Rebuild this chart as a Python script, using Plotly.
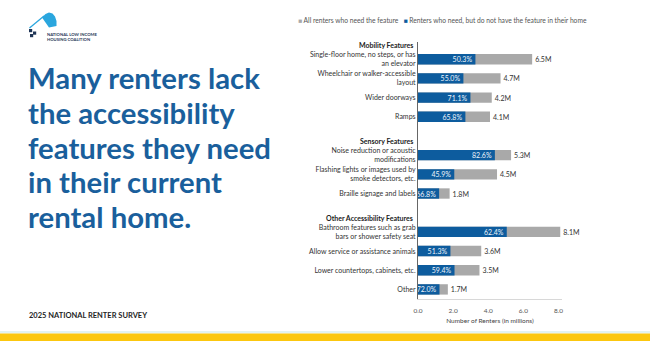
import plotly.graph_objects as go

# ---------------- data ----------------
groups = ["Mobility Features", "Sensory Features", "Other Accessibility Features"]
features = [
    "Single-floor home, no steps, or has<br>an elevator",
    "Wheelchair or walker-accessible<br>layout",
    "Wider doorways",
    "Ramps",
    "Noise reduction or acoustic<br>modifications",
    "Flashing lights or images used by<br>smoke detectors, etc.",
    "Braille signage and labels",
    "Bathroom features such as grab<br>bars or shower safety seat",
    "Allow service or assistance animals",
    "Lower countertops, cabinets, etc.",
    "Other",
]
feature_group = [0, 0, 0, 0, 1, 1, 1, 2, 2, 2, 2]
total_need_m = [6.5, 4.7, 4.2, 4.1, 5.3, 4.5, 1.8, 8.1, 3.6, 3.5, 1.7]
pct_lacking = [50.3, 55.0, 71.1, 65.8, 82.6, 45.9, 66.8, 62.4, 51.3, 59.4, 72.0]
x_ticks = [0, 2, 4, 6, 8]
series_all = "All renters who need the feature"
series_lack = "Renters who need, but do not have the feature in their home"
title_lines = ["Many renters lack", "the accessibility", "features they need",
               "in their current", "rental home."]
footer = "2025 NATIONAL RENTER SURVEY"
x_title = "Number of Renters (in millions)"

# ---------------- styles ----------------
BLUE = "#0d5c9e"
GRAY = "#a9a9a9"
TITLE_BLUE = "#1a5f9c"
FONT = "Lato, 'Open Sans', sans-serif"
W, H = 650, 341
ML, MR, MT, MB = 418, 88, 42, 42
PW, PH = W - ML - MR, H - MT - MB


def px(x):
    return (x - ML) / PW


def py(y):
    return 1 - (y - MT) / PH


# rows: header placeholder then its features
rows, ticktext, header_idx = [], [], []
for gi, g in enumerate(groups):
    header_idx.append(len(rows))
    rows.append(f"__hdr{gi}")
    ticktext.append("")
    for f, fg in zip(features, feature_group):
        if fg == gi:
            rows.append(f)
            ticktext.append(f)

Y_RANGE = [len(rows) - 0.5, 0.1]


def row_to_paper(idx):
    return (Y_RANGE[0] - idx) / (Y_RANGE[0] - Y_RANGE[1])


lacking_m = [t * p / 100 for t, p in zip(total_need_m, pct_lacking)]

fig = go.Figure()
fig.add_trace(go.Bar(
    y=features, x=total_need_m, orientation="h", name=series_all,
    marker=dict(color=GRAY, line=dict(width=0)), width=0.54,
    text=[f"{v:.1f}M" for v in total_need_m], textposition="outside",
    textfont=dict(size=7, color="#333333", family=FONT), cliponaxis=False,
))
fig.add_trace(go.Bar(
    y=features, x=lacking_m, orientation="h", name=series_lack,
    marker=dict(color=BLUE, line=dict(width=0)), width=0.54,
    text=[f"{p:.1f}%" for p in pct_lacking], textposition="inside",
    insidetextanchor="end", constraintext="none",
    textfont=dict(size=7, color="#eef4fb", family=FONT),
))

annotations = []
# group headers
for gi, g in enumerate(groups):
    annotations.append(dict(
        x=0, xref="paper", y=row_to_paper(header_idx[gi]), yref="paper",
        xanchor="right", yanchor="middle",
        xshift=-3, yshift=-5, text=f"<b>{g}</b>", showarrow=False,
        font=dict(size=7, color="#222222", family=FONT)))
# legend
annotations.append(dict(
    x=px(296), xref="paper", y=py(20), yref="paper", xanchor="left", yanchor="middle",
    showarrow=False, font=dict(size=6.7, color="#555555", family=FONT),
    text=(f"<span style='color:{GRAY}'>■</span> {series_all}   "
          f"<span style='color:{BLUE}'>■</span> {series_lack}")))
# title lines
for i, line in enumerate(title_lines):
    annotations.append(dict(
        x=px(26), xref="paper", y=py(78 + 34.5 * i), yref="paper", xanchor="left",
        yanchor="middle", showarrow=False, text=f"<b>{line}</b>",
        font=dict(size=29.3, color=TITLE_BLUE, family=FONT)))
# footer
annotations.append(dict(
    x=px(27), xref="paper", y=py(315), yref="paper", xanchor="left", yanchor="middle",
    showarrow=False, text=f"<b>{footer}</b>", font=dict(size=7.5, color="#1e1e1e", family=FONT)))
# logo text
for i, t in enumerate(["NATIONAL LOW INCOME", "HOUSING COALITION"]):
    annotations.append(dict(
        x=px(45), xref="paper", y=py(34 + 5 * i), yref="paper", xanchor="left", yanchor="middle",
        showarrow=False, text=f"<b>{t}</b>", font=dict(size=4.2, color="#1f3556", family=FONT)))


def path(points, close=True):
    s = "M " + " L ".join(f"{px(a):.5f},{py(b):.5f}" for a, b in points)
    return s + (" Z" if close else "")


shapes = [
    # bottom band
    dict(type="rect", xref="paper", yref="paper", x0=px(0), x1=px(W), y0=py(331), y1=py(333.5),
         fillcolor="#e2f3ee", line=dict(width=0), layer="below"),
    dict(type="rect", xref="paper", yref="paper", x0=px(0), x1=px(W), y0=py(333.5), y1=py(H + 2),
         fillcolor="#fcc70e", line=dict(width=0), layer="below"),
    # logo roof line
    dict(type="path", xref="paper", yref="paper", path=path([(29.5, 28), (44, 16)], close=False),
         line=dict(color="#2aa6de", width=1.3)),
    # logo dome
    dict(type="path", xref="paper", yref="paper",
         path=path([(42, 17.5), (45.5, 14), (49, 12.5), (52.5, 13.5), (55, 16.5), (56.5, 21),
                    (56.5, 26), (49, 27.5)]),
         fillcolor="#2aa6de", line=dict(width=0)),
]
for (x0, y0) in [(29, 29), (33, 31.5), (30, 34)]:
    shapes.append(dict(type="rect", xref="paper", yref="paper", x0=px(x0), x1=px(x0 + 3.2),
                       y0=py(y0), y1=py(y0 + 3.2), fillcolor="#1f3556", line=dict(width=0)))

fig.update_layout(
    width=W, height=H, margin=dict(l=ML, r=MR, t=MT, b=MB),
    paper_bgcolor="white", plot_bgcolor="white",
    barmode="overlay", showlegend=False,
    font=dict(family=FONT, size=7, color="#333333"),
    xaxis=dict(range=[0, 8.2], tickvals=x_ticks, ticksuffix="M", tickformat=".1f",
               showgrid=False, zeroline=False, showline=True, linecolor="#d8d8d8", linewidth=1,
               ticks="", ticklabelstandoff=5, tickfont=dict(size=6.5, color="#555555"),
               title=dict(text=x_title, font=dict(size=6.5, color="#444444"), standoff=5)),
    yaxis=dict(type="category", categoryorder="array", categoryarray=rows,
               tickmode="array", tickvals=rows, ticktext=ticktext,
               range=Y_RANGE, showgrid=False, zeroline=False,
               showline=True, linecolor="#666666", linewidth=1, ticks="",
               tickfont=dict(size=7, color="#333333")),
    annotations=annotations, shapes=shapes,
)

fig.write_html("out.html")
